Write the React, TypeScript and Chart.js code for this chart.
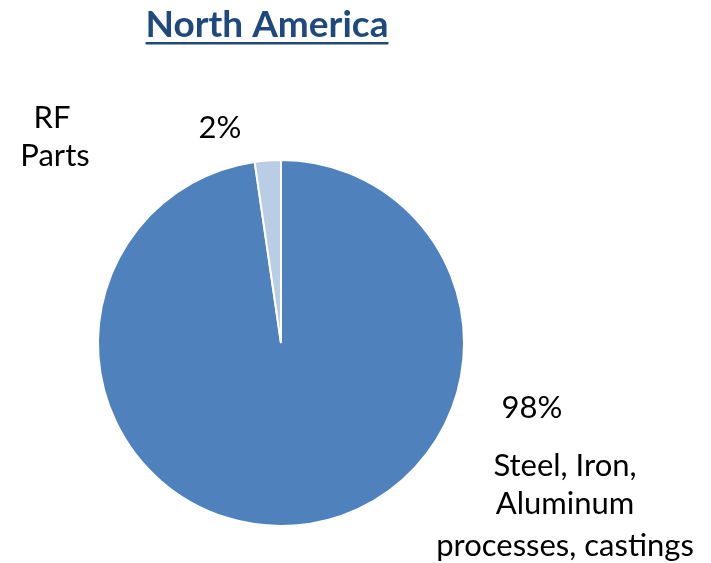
import React, { useEffect, useRef } from "react";
import { Chart, registerables } from "chart.js";

Chart.register(...registerables);

const categories = ["Steel, Iron, Aluminum processes, castings", "RF Parts"];
const values = [97.7, 2.3];
const percentLabels = ["98%", "2%"];
const sliceColors = ["#4F81BD", "#B9CDE5"];
const titleText = "North America";
const FONT = "Lato, 'Open Sans', sans-serif";

const labelPlugin = {
  id: "labelPlugin",
  afterDraw(chart: any) {
    const ctx = chart.ctx;
    ctx.save();
    // title
    ctx.fillStyle = "#1F497D";
    ctx.font = `bold 37px ${FONT}`;
    ctx.textAlign = "center";
    ctx.textBaseline = "alphabetic";
    const tx = 267;
    ctx.fillText(titleText, tx, 37);
    const tw = ctx.measureText(titleText).width;
    ctx.fillRect(tx - tw / 2, 42, tw, 2.5);

    ctx.fillStyle = "#000000";
    ctx.font = `31px ${FONT}`;
    ctx.textBaseline = "middle";
    // RF Parts
    ctx.fillText("RF", 52, 118);
    ctx.fillText("Parts", 55, 156);
    ctx.fillText(percentLabels[1], 220, 128);
    // big slice
    ctx.fillText(percentLabels[0], 532, 408);
    ctx.fillText("Steel, Iron,", 565, 466);
    ctx.fillText("Aluminum", 565, 504);
    ctx.fillText("processes, castings", 565, 546);
    ctx.restore();
  },
};

export default function App() {
  const ref = useRef<HTMLCanvasElement>(null);
  useEffect(() => {
    if (!ref.current) return;
    const chart = new Chart(ref.current, {
      type: "pie",
      data: {
        labels: categories,
        datasets: [
          {
            data: values,
            backgroundColor: sliceColors,
            borderColor: "#FFFFFF",
            borderWidth: 2,
          },
        ],
      },
      options: {
        animation: false,
        responsive: false,
        layout: { padding: { left: 97, right: 246, top: 159, bottom: 36 } },
        plugins: {
          legend: { display: false },
          tooltip: { enabled: false },
          title: { display: false },
        },
      },
      plugins: [labelPlugin],
    });
    return () => chart.destroy();
  }, []);
  return (
    <div style={{ position: "fixed", left: 0, top: 0, width: 711, height: 563, background: "#fff" }}>
      <canvas ref={ref} width={711} height={563} />
    </div>
  );
}
